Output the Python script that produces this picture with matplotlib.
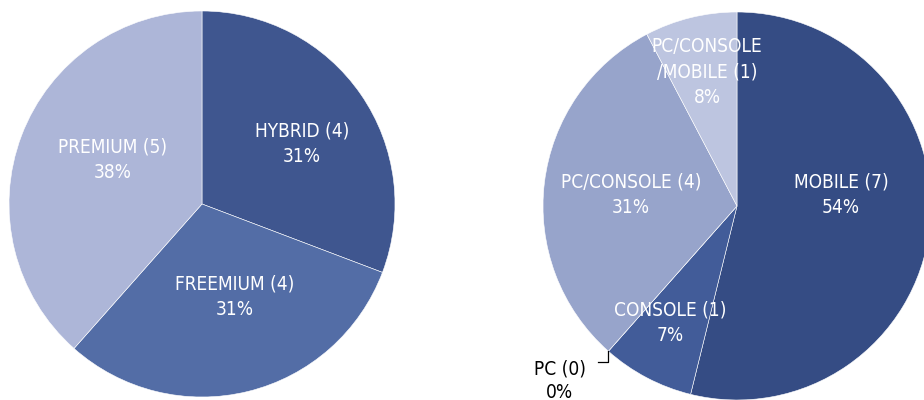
import numpy as np
import matplotlib
matplotlib.use("Agg")
import matplotlib.pyplot as plt

# left pie: business model
model_names = ["HYBRID", "FREEMIUM", "PREMIUM"]
model_counts = [4, 4, 5]
model_pct = ["31%", "31%", "38%"]

# right pie: platform
plat_names = ["MOBILE", "CONSOLE", "PC", "PC/CONSOLE", "PC/CONSOLE\n/MOBILE"]
plat_counts = [7, 1, 0, 4, 1]
plat_pct = ["54%", "7%", "0%", "31%", "8%"]

model_colors = ["#3f568f", "#536da6", "#adb6d8"]
plat_colors = ["#354c84", "#425c99", "#4a63a0", "#97a4cb", "#bdc5e0"]

FONT = ["DejaVu Sans"]
FS = 13.7
LS = 1.45
W, H = 924, 400

fig = plt.figure(figsize=(W / 100, H / 100), dpi=100)


def pie_axes(cx, cy, r):
    # cx, cy in pixels from top-left
    ax = fig.add_axes([(cx - r) / W, (H - cy - r) / H, 2 * r / W, 2 * r / H])
    ax.axis("off")
    return ax


def draw_pie(ax, counts, colors, names, pcts, dists, nudges, skip=()):
    wedges, _ = ax.pie(counts, colors=colors, startangle=90, counterclock=False,
                       radius=1, wedgeprops=dict(edgecolor="white", linewidth=0.4))
    ax.set_xlim(-1, 1); ax.set_ylim(-1, 1)
    ax.set_aspect("equal")
    for i, w in enumerate(wedges):
        if i in skip:
            continue
        mid = np.deg2rad((w.theta1 + w.theta2) / 2 + nudges[i])
        d = dists[i]
        ax.text(d * np.cos(mid), d * np.sin(mid), f"{names[i]} ({counts[i]})\n{pcts[i]}",
                ha="center", va="center", color="white", fontsize=FS,
                family=FONT, fontstretch="condensed", linespacing=LS)
    return wedges


ax1 = pie_axes(202, 204, 193)
draw_pie(ax1, model_counts, model_colors, model_names, model_pct,
         [0.604, 0.511, 0.514], [-3.6, 5.7, -5.5])

ax2 = pie_axes(737, 206, 194)
w2 = draw_pie(ax2, plat_counts, plat_colors, plat_names, plat_pct,
              [0.539, 0.695, 0.0, 0.55, 0.708], [12.9, -2.1, 0, 0.7, -1.2], skip=(2,))

# zero-size PC wedge: label outside with elbow leader
ang = np.deg2rad(w2[2].theta1)
px, py = np.cos(ang), np.sin(ang)
ax2.plot([px, px, px - 0.055], [py, py - 0.055, py - 0.055], color="black", lw=0.9,
         clip_on=False)
ax2.text(px - 0.25, py - 0.15, f"{plat_names[2]} ({plat_counts[2]})\n{plat_pct[2]}",
         ha="center", va="center", color="black", fontsize=FS, family=FONT,
         fontstretch="condensed", linespacing=LS * 0.9, clip_on=False)

fig.savefig("out.png", dpi=100)
